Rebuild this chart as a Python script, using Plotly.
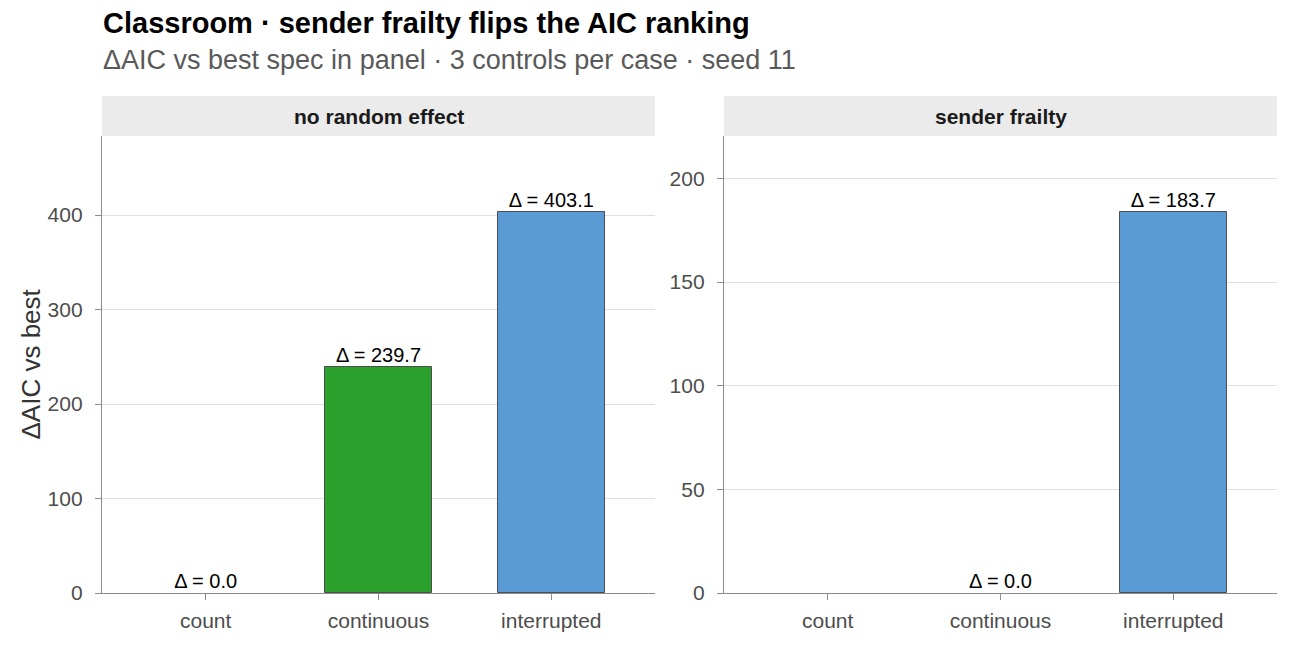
import plotly.graph_objects as go

categories = ["count", "continuous", "interrupted"]
panels = ["no random effect", "sender frailty"]
delta_no_re = [0.0, 239.7, 403.1]
delta_frailty = [None, 0.0, 183.7]
bar_colors = ["#f28e2b", "#2ca02c", "#5b9bd5"]
y_ticks_left = [0, 100, 200, 300, 400]
y_ticks_right = [0, 50, 100, 150, 200]

W, H = 1290, 645
FONT = "Liberation Sans, Arial, sans-serif"

fig = go.Figure()

def px_x(p):
    return p / W

def px_y(p):
    return 1 - p / H

x_doms = [(px_x(102), px_x(655)), (px_x(724), px_x(1277))]
y_dom = (px_y(593), px_y(136))

series = [delta_no_re, delta_frailty]
for i, vals in enumerate(series):
    xa = "x" if i == 0 else "x2"
    ya = "y" if i == 0 else "y2"
    cats = [c for c, v in zip(categories, vals) if v is not None]
    vv = [v for v in vals if v is not None]
    cols = [bar_colors[categories.index(c)] for c in cats]
    lw = [1 if v > 0 else 0 for v in vv]
    fig.add_trace(go.Bar(
        x=cats, y=vv, marker=dict(color=cols, line=dict(color="#4d4d4d", width=lw)),
        width=0.62, xaxis=xa, yaxis=ya, showlegend=False, hoverinfo="skip"))
    fig.add_trace(go.Scatter(
        x=cats, y=vv, mode="text", text=[f"Δ = {v:.1f}" for v in vv],
        textposition="top center", textfont=dict(family=FONT, size=20, color="#000000"),
        xaxis=xa, yaxis=ya, showlegend=False, hoverinfo="skip", cliponaxis=False))

common_x = dict(
    type="category", categoryorder="array", categoryarray=categories, automargin=False,
    range=[-0.6, 2.6], showgrid=False, showline=True, linecolor="#8c8c8c", linewidth=1.3,
    ticks="outside", ticklen=6, tickcolor="#8c8c8c", tickwidth=1.2, ticklabelstandoff=3,
    tickfont=dict(family=FONT, size=21, color="#4d4d4d"), zeroline=False, fixedrange=True)
common_y = dict(
    showgrid=True, gridcolor="#e0e0e0", gridwidth=1, showline=True, linecolor="#8c8c8c",
    linewidth=1.3, ticks="outside", ticklen=6, tickcolor="#8c8c8c", tickwidth=1.2, automargin=False,
    ticklabelstandoff=8,
    tickfont=dict(family=FONT, size=21, color="#4d4d4d"), zeroline=False, domain=list(y_dom))

max_left = max(v for v in delta_no_re if v is not None)
max_right = max(v for v in delta_frailty if v is not None)

fig.update_layout(
    width=W, height=H, margin=dict(l=0, r=0, t=0, b=0, autoexpand=False),
    paper_bgcolor="white", plot_bgcolor="white", bargap=0,
    font=dict(family=FONT),
    xaxis=dict(common_x, domain=list(x_doms[0]), anchor="y"),
    xaxis2=dict(common_x, domain=list(x_doms[1]), anchor="y2"),
    yaxis=dict(common_y, range=[0, max_left * 1.2], tickvals=y_ticks_left, anchor="x"),
    yaxis2=dict(common_y, range=[0, max_right * 1.2], tickvals=y_ticks_right, anchor="x2"),
)

# y-axis title
fig.add_annotation(xref="paper", yref="paper", x=px_x(30), y=(y_dom[0] + y_dom[1]) / 2,
                   text="ΔAIC vs best", textangle=-90, showarrow=False, xanchor="center", yanchor="middle",
                   font=dict(family=FONT, size=26, color="#333333"))

# strips
for i, (x0, x1) in enumerate(x_doms):
    fig.add_shape(type="rect", xref="paper", yref="paper", x0=x0, x1=x1,
                  y0=px_y(136), y1=px_y(96), fillcolor="#ebebeb", line=dict(width=0), layer="below")
    fig.add_annotation(xref="paper", yref="paper", x=(x0 + x1) / 2, y=px_y(116),
                       text=f"<b>{panels[i]}</b>", showarrow=False, xanchor="center", yanchor="middle",
                       font=dict(family=FONT, size=21, color="#1a1a1a"))

fig.add_annotation(xref="paper", yref="paper", x=px_x(101), y=px_y(23), xanchor="left", yanchor="middle",
                   text="<b>Classroom · sender frailty flips the AIC ranking</b>", showarrow=False,
                   font=dict(family=FONT, size=29, color="#000000"))
fig.add_annotation(xref="paper", yref="paper", x=px_x(101), y=px_y(60), xanchor="left", yanchor="middle",
                   text="ΔAIC vs best spec in panel · 3 controls per case · seed 11", showarrow=False,
                   font=dict(family=FONT, size=27, color="#595959"))

fig.write_html("out.html")
